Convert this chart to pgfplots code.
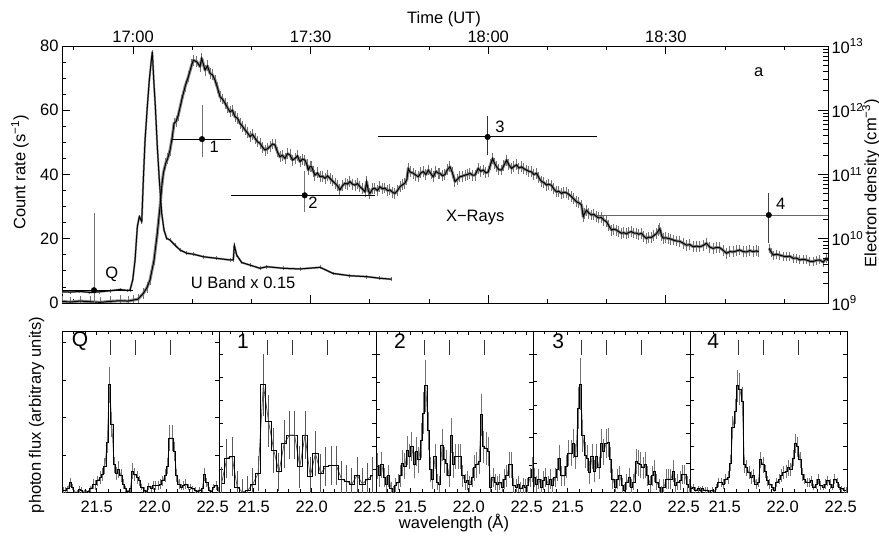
\documentclass[border=0pt]{standalone}
\usepackage{pgfplots}
\usepackage{pgfplotstable}
\pgfplotsset{compat=1.18}
\usepackage{fontspec}
\setmainfont{Liberation Sans}
\newcommand{\fs}{\fontsize{16.5}{19}\selectfont}
\newcommand{\fl}{\fontsize{21}{24}\selectfont}
\definecolor{eb}{gray}{0.45}

% ---- spectra: wavelength, flux, error ----
\pgfplotstableread{
l f e
21.21 0.01 0.02
21.23 0.01 0.02
21.25 0.02 0.02
21.27 0.06 0.03
21.29 0.03 0.02
21.31 0.00 0.01
21.33 0.00 0.01
21.35 0.015 0.02
21.37 0.01 0.02
21.39 0.00 0.01
21.41 0.00 0.01
21.43 0.005 0.01
21.45 0.02 0.02
21.47 0.05 0.03
21.49 0.045 0.03
21.51 0.07 0.03
21.53 0.09 0.04
21.55 0.11 0.04
21.57 0.16 0.05
21.59 0.31 0.07
21.61 0.665 0.11
21.63 0.42 0.08
21.65 0.17 0.05
21.67 0.115 0.04
21.69 0.14 0.05
21.71 0.10 0.04
21.73 0.05 0.03
21.75 0.02 0.02
21.77 0.005 0.01
21.79 0.02 0.02
21.81 0.13 0.05
21.83 0.11 0.04
21.85 0.09 0.04
21.87 0.07 0.03
21.89 0.03 0.02
21.91 0.01 0.02
21.93 0.005 0.01
21.95 0.035 0.02
21.97 0.02 0.02
21.99 0.04 0.03
22.01 0.04 0.03
22.03 0.04 0.03
22.05 0.05 0.03
22.07 0.07 0.03
22.09 0.10 0.04
22.11 0.16 0.05
22.13 0.335 0.08
22.15 0.335 0.08
22.17 0.25 0.06
22.19 0.10 0.04
22.21 0.05 0.03
22.23 0.03 0.02
22.25 0.04 0.03
22.27 0.05 0.03
22.29 0.03 0.02
22.31 0.03 0.02
22.33 0.02 0.02
22.35 0.01 0.02
22.37 0.005 0.01
22.39 0.01 0.02
22.41 0.02 0.02
22.43 0.11 0.04
22.45 0.06 0.03
22.47 0.01 0.02
22.49 0.005 0.01
22.51 0.03 0.02
22.53 0.04 0.03
22.55 0.01 0.02
}\specQ

\pgfplotstableread{
l f e
21.2225 0.054 0.10
21.2675 0.21 0.12
21.3125 0.22 0.12
21.3575 0.03 0.10
21.4025 0.00 0.08
21.4475 0.01 0.09
21.4925 0.05 0.10
21.5375 0.115 0.11
21.5825 0.665 0.19
21.6275 0.44 0.16
21.6725 0.26 0.14
21.7175 0.125 0.12
21.7625 0.30 0.15
21.8075 0.354 0.15
21.8525 0.354 0.15
21.8975 0.157 0.13
21.9425 0.354 0.15
21.9875 0.095 0.12
22.0325 0.24 0.14
22.0775 0.115 0.12
22.1225 0.157 0.12
22.1675 0.165 0.12
22.2125 0.165 0.12
22.2575 0.08 0.11
22.3025 0.065 0.10
22.3475 0.05 0.10
22.3925 0.105 0.11
22.4375 0.05 0.10
22.4825 0.08 0.10
22.5275 0.105 0.11
}\specA

\pgfplotstableread{
l f e
21.21 0.16 0.08
21.23 0.10 0.07
21.25 0.17 0.08
21.27 0.09 0.06
21.29 0.05 0.05
21.31 0.10 0.07
21.33 0.02 0.04
21.35 0.00 0.04
21.37 0.04 0.05
21.39 0.06 0.05
21.41 0.10 0.07
21.43 0.18 0.08
21.45 0.16 0.08
21.47 0.26 0.09
21.49 0.22 0.08
21.51 0.28 0.09
21.53 0.17 0.08
21.55 0.25 0.09
21.57 0.20 0.08
21.59 0.32 0.11
21.61 0.49 0.13
21.63 0.66 0.16
21.65 0.38 0.12
21.67 0.14 0.08
21.69 0.08 0.06
21.71 0.22 0.08
21.73 0.06 0.05
21.75 0.05 0.05
21.77 0.29 0.10
21.79 0.20 0.08
21.81 0.18 0.08
21.83 0.10 0.07
21.85 0.35 0.11
21.87 0.17 0.08
21.89 0.22 0.08
21.91 0.22 0.08
21.93 0.22 0.08
21.95 0.10 0.07
21.97 0.06 0.05
21.99 0.07 0.06
22.01 0.05 0.05
22.03 0.09 0.06
22.05 0.15 0.08
22.07 0.17 0.08
22.09 0.19 0.08
22.11 0.48 0.13
22.13 0.28 0.10
22.15 0.27 0.10
22.17 0.25 0.09
22.19 0.03 0.05
22.21 0.09 0.06
22.23 0.06 0.05
22.25 0.05 0.05
22.27 0.06 0.05
22.29 0.03 0.05
22.31 0.08 0.06
22.33 0.10 0.07
22.35 0.17 0.08
22.37 0.17 0.08
22.39 0.04 0.05
22.41 0.03 0.05
22.43 0.05 0.05
22.45 0.02 0.04
22.47 0.04 0.05
22.49 0.03 0.05
22.51 0.04 0.05
22.53 0.09 0.06
22.55 0.14 0.08
}\specB

\pgfplotstableread{
l f e
21.21 0.09 0.06
21.23 0.05 0.05
21.25 0.08 0.06
21.27 0.03 0.05
21.29 0.07 0.06
21.31 0.09 0.06
21.33 0.05 0.05
21.35 0.08 0.06
21.37 0.04 0.05
21.39 0.09 0.06
21.41 0.14 0.07
21.43 0.21 0.08
21.45 0.10 0.06
21.47 0.10 0.06
21.49 0.16 0.07
21.51 0.24 0.08
21.53 0.24 0.08
21.55 0.30 0.09
21.57 0.22 0.08
21.59 0.52 0.13
21.61 0.67 0.16
21.63 0.35 0.10
21.65 0.23 0.08
21.67 0.21 0.08
21.69 0.12 0.07
21.71 0.22 0.08
21.73 0.13 0.07
21.75 0.22 0.08
21.77 0.15 0.07
21.79 0.30 0.09
21.81 0.25 0.08
21.83 0.30 0.09
21.85 0.31 0.09
21.87 0.20 0.08
21.89 0.08 0.06
21.91 0.03 0.05
21.93 0.08 0.06
21.95 0.10 0.06
21.97 0.04 0.05
21.99 0.01 0.04
22.01 0.06 0.05
22.03 0.09 0.06
22.05 0.03 0.05
22.07 0.06 0.05
22.09 0.19 0.08
22.11 0.18 0.08
22.13 0.17 0.08
22.15 0.15 0.07
22.17 0.17 0.08
22.19 0.10 0.06
22.21 0.05 0.05
22.23 0.10 0.06
22.25 0.13 0.07
22.27 0.06 0.05
22.29 0.03 0.05
22.31 0.00 0.04
22.33 0.03 0.05
22.35 0.08 0.06
22.37 0.08 0.06
22.39 0.08 0.06
22.41 0.13 0.07
22.43 0.04 0.05
22.45 0.06 0.05
22.47 0.07 0.06
22.49 0.11 0.06
22.51 0.11 0.06
22.53 0.05 0.05
22.55 0.03 0.05
}\specC

\pgfplotstableread{
l f e
21.21 0.02 0.02
21.23 0.03 0.02
21.25 0.01 0.02
21.27 0.02 0.02
21.29 0.01 0.02
21.31 0.02 0.02
21.33 0.01 0.02
21.35 0.01 0.02
21.37 0.00 0.01
21.39 0.01 0.02
21.41 0.00 0.01
21.43 0.03 0.02
21.45 0.06 0.03
21.47 0.06 0.03
21.49 0.05 0.03
21.51 0.08 0.03
21.53 0.09 0.04
21.55 0.18 0.05
21.57 0.40 0.07
21.59 0.50 0.08
21.61 0.66 0.10
21.63 0.64 0.10
21.65 0.56 0.09
21.67 0.17 0.05
21.69 0.15 0.05
21.71 0.12 0.04
21.73 0.09 0.04
21.75 0.10 0.04
21.77 0.05 0.03
21.79 0.06 0.03
21.81 0.20 0.05
21.83 0.17 0.05
21.85 0.13 0.04
21.87 0.07 0.03
21.89 0.05 0.03
21.91 0.03 0.02
21.93 0.01 0.02
21.95 0.06 0.03
21.97 0.08 0.03
21.99 0.10 0.04
22.01 0.12 0.04
22.03 0.13 0.04
22.05 0.15 0.05
22.07 0.14 0.04
22.09 0.21 0.05
22.11 0.30 0.06
22.13 0.28 0.06
22.15 0.20 0.05
22.17 0.11 0.04
22.19 0.08 0.03
22.21 0.06 0.03
22.23 0.06 0.03
22.25 0.07 0.03
22.27 0.03 0.02
22.29 0.05 0.03
22.31 0.08 0.03
22.33 0.04 0.03
22.35 0.03 0.02
22.37 0.05 0.03
22.39 0.07 0.03
22.41 0.05 0.03
22.43 0.03 0.02
22.45 0.08 0.03
22.47 0.06 0.03
22.49 0.03 0.02
22.51 0.02 0.02
22.53 0.01 0.02
22.55 0.01 0.02
}\specD

% ---- light curves: minutes after 17:00 UT, count rate ----
\pgfplotstableread{
t c
-12.00 0.5
-10.64 0.3
-8.95 0.6
-7.26 0.4
-5.57 0.2
-3.88 0.5
-2.20 0.7
-0.84 0.6
0.00 0.9
0.84 1.2
1.74 3.0
2.36 4.8
2.87 7.2
3.55 13.4
4.10 21.7
4.56 30.0
4.85 36.2
5.12 40.4
5.52 43.5
5.86 45.0
6.25 47.6
6.64 51.8
6.92 55.9
7.26 56.5
7.65 58.5
8.22 63.2
8.78 67.3
9.34 70.4
9.91 74.1
10.18 75.6
10.76 75.1
11.31 73.6
11.60 76.2
12.16 72.5
12.58 73.8
13.00 71.5
13.43 71.0
13.85 69.4
14.27 67.0
14.69 64.2
15.11 63.5
15.54 62.2
15.96 60.8
16.38 59.5
16.80 60.0
17.22 58.0
17.65 57.5
18.07 55.9
18.49 55.0
18.91 53.9
19.33 53.0
19.76 51.8
20.18 52.5
20.60 51.3
21.02 50.2
21.45 49.7
21.87 48.5
22.29 47.6
22.71 48.0
23.13 48.7
23.56 49.5
23.98 49.2
24.40 47.0
24.82 45.5
25.24 46.0
25.67 45.0
26.09 46.5
26.51 46.1
26.93 44.5
27.36 45.0
27.78 45.8
28.20 44.0
28.62 44.8
29.04 44.5
29.38 43.0
29.60 41.4
29.89 42.5
30.18 42.4
30.45 41.0
30.73 39.8
31.15 40.5
31.58 39.3
32.00 39.5
32.42 38.8
32.84 39.6
33.27 38.8
33.69 38.0
34.11 37.3
34.53 36.5
34.95 35.2
35.38 36.5
35.80 37.3
36.22 37.0
36.64 37.8
37.06 37.0
37.49 36.7
37.91 37.2
38.33 36.2
38.75 35.5
39.18 34.6
39.46 37.8
39.73 35.0
40.02 34.1
40.44 35.5
40.86 35.7
41.29 35.0
41.71 36.2
42.13 35.5
42.55 35.8
42.98 35.0
43.40 35.2
43.82 34.5
44.24 34.1
44.67 35.0
45.09 36.2
45.51 36.8
45.93 37.3
46.27 38.5
46.49 41.9
46.78 40.8
47.33 40.4
47.79 39.8
48.18 39.3
48.63 40.5
49.02 40.9
49.48 40.0
49.87 41.4
50.33 40.2
50.71 39.3
51.17 41.0
51.56 40.4
51.84 40.4
52.27 39.6
52.69 40.0
53.11 41.5
53.53 42.4
53.96 40.5
54.38 37.8
54.80 38.5
55.22 39.3
55.65 39.5
56.07 39.8
56.49 40.0
56.91 40.4
57.33 39.8
57.76 39.8
58.31 41.9
58.76 41.0
59.15 41.4
59.61 40.5
60.00 40.8
60.37 43.0
60.75 45.0
61.05 43.5
61.42 42.4
61.80 41.5
62.26 41.4
62.65 42.8
63.10 44.5
63.49 43.0
63.95 41.9
64.34 42.5
64.80 43.0
65.18 42.0
65.64 42.4
66.03 41.8
66.48 41.4
66.87 41.0
67.32 40.8
67.71 40.0
68.17 40.4
68.56 39.0
69.01 37.8
69.40 37.5
69.85 36.7
70.24 37.0
70.70 36.6
71.09 35.5
71.54 34.6
71.93 34.8
72.39 34.1
72.78 34.5
73.23 34.3
73.62 33.8
74.08 33.1
74.47 32.4
74.92 31.5
75.31 31.2
75.77 30.5
76.04 26.9
76.33 28.0
76.61 28.9
77.00 28.0
77.46 27.4
77.85 27.6
78.30 26.9
78.69 26.5
79.15 26.6
79.53 25.8
79.99 25.3
80.38 24.0
80.84 22.7
81.22 23.0
81.68 22.7
82.07 22.2
82.52 21.7
82.91 21.9
83.37 21.5
83.76 22.0
84.21 22.2
84.60 21.8
85.06 21.7
85.44 21.4
85.90 21.7
86.29 20.8
86.74 20.1
87.13 20.5
87.59 20.4
87.98 21.0
88.43 21.6
88.74 22.5
88.99 23.2
89.28 21.0
89.55 20.2
90.00 20.3
90.39 20.1
90.85 19.9
91.24 19.6
91.81 19.3
92.37 19.2
92.93 18.6
93.50 18.0
94.06 18.2
94.62 17.5
95.19 17.7
95.75 17.5
96.31 17.9
96.87 18.6
97.43 17.4
98.00 17.0
98.56 17.3
99.12 17.2
99.68 16.4
100.25 15.5
100.81 16.0
101.37 15.9
101.93 16.2
102.50 16.5
103.06 16.0
103.62 15.9
104.19 16.3
104.75 16.0
105.29 16.2
105.71 16.0
}\xrayA

\pgfplotstableread{
t c
107.45 17.0
107.82 15.8
108.13 14.9
108.70 15.2
109.26 14.9
109.82 14.6
110.39 14.4
110.95 14.6
111.51 13.9
112.07 14.0
112.64 13.4
113.20 13.6
113.76 13.4
114.32 13.0
114.89 12.9
115.45 13.3
116.01 13.4
116.58 12.7
117.14 13.9
117.40 13.2
}\xrayB

\pgfplotstableread{
t c
-12.0 3.5
-10.6 3.4
-9.0 3.6
-7.3 3.3
-5.6 3.5
-3.9 3.8
-2.2 4.2
-1.0 3.9
-0.51 4.0
-0.05 7.2
0.34 13.4
0.73 23.8
1.06 26.9
1.47 25.3
1.74 38.3
2.03 50.7
2.41 61.1
2.75 69.4
3.09 75.6
3.26 78.2
3.50 69.4
3.77 61.1
4.10 48.7
4.44 38.3
4.85 27.9
5.23 22.7
5.69 20.1
6.25 19.6
7.09 18.0
7.94 16.5
9.07 15.5
10.18 15.2
11.87 14.4
14.13 13.9
16.38 13.4
16.94 13.4
17.11 18.0
17.51 14.9
18.36 12.6
19.76 11.8
21.45 10.8
22.58 11.3
25.40 10.8
28.20 10.6
31.60 11.1
33.80 9.2
36.60 8.5
39.50 8.2
41.70 7.7
43.70 7.4
}\uband

\begin{document}
\begin{tikzpicture}
\useasboundingbox (0pt,0pt) rectangle (879pt,539pt);
\pgfplotsset{
  every axis/.append style={
    scale only axis, font=\fs,
    axis line style={line width=0.8pt},
    every tick/.style={black, line width=0.8pt},
    tick align=inside,
    /pgf/number format/assume math mode=true,
  },
  spec/.style={
    anchor=south west,
    width=157pt, height=161pt,
    xmin=21.2, xmax=22.555, ymin=0, ymax=1,
    xtick={21.5,22.0,22.5}, xticklabels={21.5,22.0,22.5},
    minor xtick={21.3,21.4,21.6,21.7,21.8,21.9,22.1,22.2,22.3,22.4},
    xtick pos=both, ytick pos=both, yticklabels={},
    major tick length=4pt, minor tick length=3pt,
    xticklabel style={yshift=-5pt},
  },
  ebar/.style={error bars/.cd, y dir=both, y explicit, error mark=none,
    error bar style={#1, line width=1pt}},
  spmark/.style={black!80, mark=none, line width=0.9pt, unbounded coords=jump},
}

% ===== top panel: count rates =====
\begin{axis}[at={(62pt,236pt)}, anchor=south west, width=766pt, height=257pt,
  xmin=-12, xmax=117.4, ymin=0, ymax=80,
  xtick={0,30,60,90}, xticklabels={17:00,17:30,18:00,18:30},
  minor xtick={-10,10,20,40,50,70,80,100,110},
  xtick pos=both, xticklabel pos=upper,
  ytick={0,20,40,60,80}, minor ytick={5,10,15,25,30,35,45,50,55,65,70,75},
  ytick pos=left,
  major tick length=8pt, minor tick length=4pt,
]
\addplot[black!45, mark=none, line width=3pt, line join=round, error bars/.cd, y dir=both, y fixed=1.7,
  error mark=none, error bar style={black!55, line width=0.9pt}] table[x=t,y=c] {\xrayA};
\addplot[black!45, mark=none, line width=3pt, line join=round, error bars/.cd, y dir=both, y fixed=1.4,
  error mark=none, error bar style={black!55, line width=0.9pt}] table[x=t,y=c] {\xrayB};
\addplot[black!45, mark=none, line width=2pt, line join=round, error bars/.cd, y dir=both, y fixed=0.6,
  error mark=none, error bar style={black!55, line width=0.8pt}] table[x=t,y=c] {\uband};
\addplot[black, mark=none, line width=1pt] table[x=t,y=c] {\xrayA};
\addplot[black, mark=none, line width=1pt] table[x=t,y=c] {\xrayB};
\addplot[black, mark=none, line width=1pt] table[x=t,y=c] {\uband};
\node at (axis cs:-3.6,9.0) {Q};
\node at (axis cs:13.7,48.6) {1};
\node at (axis cs:30.4,31.1) {2};
\node at (axis cs:62.0,54.8) {3};
\node at (axis cs:109.4,30.9) {4};
\node at (axis cs:105.7,71.9) {a};
\node at (axis cs:57.8,26.5) {X−Rays};
\node at (axis cs:18.6,6.2) {U Band x 0.15};
\end{axis}

% ===== top panel: electron density (right axis) =====
\begin{axis}[at={(62pt,236pt)}, anchor=south west, width=766pt, height=257pt,
  xmin=-12, xmax=117.4, ymode=log, ymin=1e9, ymax=1e13,
  hide x axis, axis y line*=right,
  ytick={1e9,1e10,1e11,1e12,1e13},
  yticklabels={10\textsuperscript{9},10\textsuperscript{10},10\textsuperscript{11},10\textsuperscript{12},10\textsuperscript{13}},
  minor ytick={2e9,3e9,4e9,5e9,6e9,7e9,8e9,9e9,2e10,3e10,4e10,5e10,6e10,7e10,8e10,9e10,2e11,3e11,4e11,5e11,6e11,7e11,8e11,9e11,2e12,3e12,4e12,5e12,6e12,7e12,8e12,9e12},
  major tick length=10pt, minor tick length=5pt,
]
% Q
\addplot[black, mark=none, line width=0.9pt] coordinates {(-12,1.58e9) (0,1.58e9)};
\addplot[eb, mark=none, line width=0.9pt] coordinates {(-6.6,8e8) (-6.6,2.5e10)};
\addplot[black, only marks, mark=*, mark size=2.8pt] coordinates {(-6.6,1.58e9)};
% 1
\addplot[black, mark=none, line width=0.9pt] coordinates {(6.64,3.55e11) (16.55,3.55e11)};
\addplot[eb, mark=none, line width=0.9pt] coordinates {(11.65,1.85e11) (11.65,1.19e12)};
\addplot[black, only marks, mark=*, mark size=2.8pt] coordinates {(11.65,3.55e11)};
% 2
\addplot[black, mark=none, line width=0.9pt] coordinates {(16.55,4.74e10) (40.9,4.74e10)};
\addplot[eb, mark=none, line width=0.9pt] coordinates {(29.0,2.61e10) (29.0,1.12e11)};
\addplot[black, only marks, mark=*, mark size=2.8pt] coordinates {(29.0,4.74e10)};
% 3
\addplot[black, mark=none, line width=0.9pt] coordinates {(41.4,3.84e11) (78.3,3.84e11)};
\addplot[black!80, mark=none, line width=0.9pt] coordinates {(59.9,1.99e11) (59.9,8.22e11)};
\addplot[black, only marks, mark=*, mark size=2.8pt] coordinates {(59.9,3.84e11)};
% 4
\addplot[black!60, mark=none, line width=0.9pt] coordinates {(78.3,2.34e10) (117.4,2.34e10)};
\addplot[black!75, mark=none, line width=0.9pt] coordinates {(107.4,8.49e9) (107.4,5.21e10)};
\addplot[black, only marks, mark=*, mark size=2.8pt] coordinates {(107.4,2.34e10)};
\end{axis}

% ===== spectra =====
\begin{axis}[spec, at={(62pt,47pt)}, ytick={0.228,0.462,0.696,0.93}]
\addplot[black!55, mark=none, line width=0.8pt, ebar=black!55] table[x=l,y=f,y error=e] {\specQ};
\addplot[const plot mark mid, black, mark=none, line width=0.9pt] table[x=l,y=f] {\specQ};
\addplot[spmark] coordinates {(21.62,0.85) (21.62,0.945) (21.7,nan) (21.83,0.85) (21.83,0.945) (22.0,nan) (22.14,0.85) (22.14,0.945)};
\node[font=\fl] at (rel axis cs:0.115,0.934) {Q};
\end{axis}

\begin{axis}[spec, at={(219pt,47pt)}, ytick={0.141,0.284,0.427,0.570,0.712,0.855}]
\addplot[black!65, mark=none, line width=0.8pt, ebar=black!65] table[x=l,y=f,y error=e] {\specA};
\addplot[const plot mark mid, black, mark=none, line width=0.9pt] table[x=l,y=f] {\specA};
\addplot[spmark] coordinates {(21.62,0.85) (21.62,0.945) (21.7,nan) (21.83,0.85) (21.83,0.945) (22.0,nan) (22.14,0.85) (22.14,0.945)};
\node[font=\fl] at (rel axis cs:0.153,0.934) {1};
\end{axis}

\begin{axis}[spec, at={(376pt,47pt)}, ytick={0.166,0.340,0.511,0.683,0.857}]
\addplot[black!55, mark=none, line width=0.8pt, ebar=black!55] table[x=l,y=f,y error=e] {\specB};
\addplot[const plot mark mid, black, mark=none, line width=0.9pt] table[x=l,y=f] {\specB};
\addplot[spmark] coordinates {(21.62,0.85) (21.62,0.945) (21.7,nan) (21.83,0.85) (21.83,0.945) (22.0,nan) (22.14,0.85) (22.14,0.945)};
\node[font=\fl] at (rel axis cs:0.153,0.934) {2};
\end{axis}

\begin{axis}[spec, at={(533pt,47pt)}, ytick={0.178,0.364,0.54,0.685,0.857}]
\addplot[black!55, mark=none, line width=0.8pt, ebar=black!55] table[x=l,y=f,y error=e] {\specC};
\addplot[const plot mark mid, black, mark=none, line width=0.9pt] table[x=l,y=f] {\specC};
\addplot[spmark] coordinates {(21.62,0.85) (21.62,0.945) (21.7,nan) (21.83,0.85) (21.83,0.945) (22.0,nan) (22.14,0.85) (22.14,0.945)};
\node[font=\fl] at (rel axis cs:0.16,0.934) {3};
\end{axis}

\begin{axis}[spec, at={(690pt,47pt)}, ytick={0.141,0.284,0.427,0.571,0.712,0.857}]
\addplot[black!55, mark=none, line width=0.8pt, ebar=black!55] table[x=l,y=f,y error=e] {\specD};
\addplot[const plot mark mid, black, mark=none, line width=0.9pt] table[x=l,y=f] {\specD};
\addplot[spmark] coordinates {(21.62,0.85) (21.62,0.945) (21.7,nan) (21.83,0.85) (21.83,0.945) (22.0,nan) (22.14,0.85) (22.14,0.945)};
\node[font=\fl] at (rel axis cs:0.148,0.934) {4};
\end{axis}

% ===== outer labels =====
\node[font=\fs] at (444pt,520pt) {Time (UT)};
\node[font=\fs, rotate=90] at (20pt,366.5pt) {Count rate (s\textsuperscript{−1})};
\node[font=\fs, rotate=90] at (871pt,355.7pt) {Electron density (cm\textsuperscript{−3})};
\node[font=\fs, rotate=90] at (36.5pt,124pt) {photon flux (arbitrary units)};
\node[font=\fs] at (454pt,16pt) {wavelength (Å)};
\end{tikzpicture}
\end{document}
